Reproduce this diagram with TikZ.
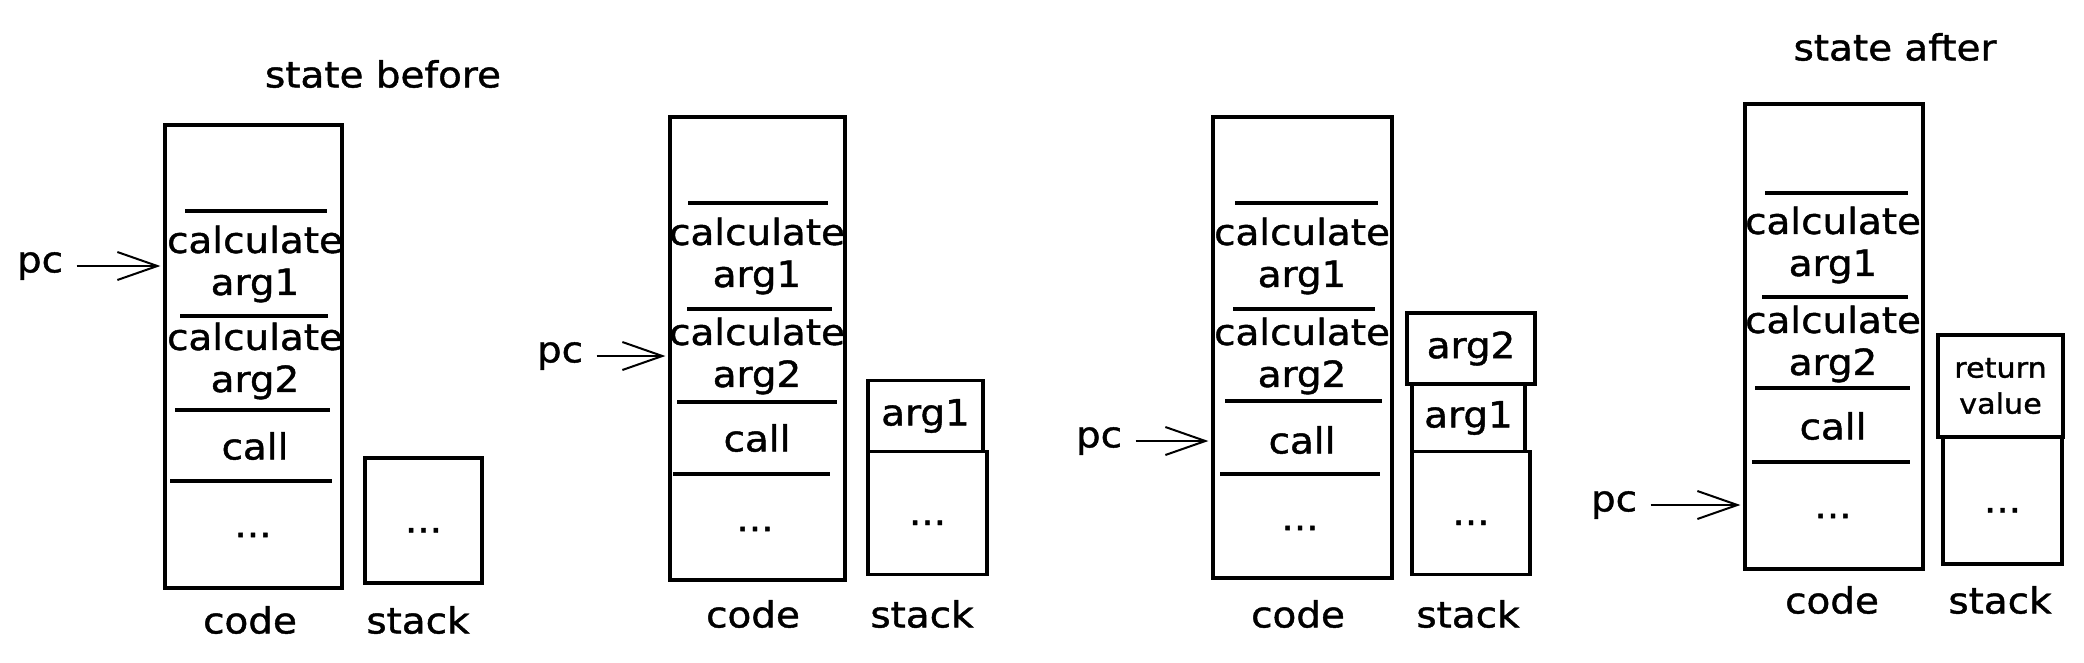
\documentclass[tikz,border=0pt]{standalone}
\usepackage{fontspec}
\setmainfont[FakeStretch=1.08, FakeBold=1.2]{DejaVu Sans}
\usetikzlibrary{arrows.meta}
\tikzstyle{codebox} = [rectangle, draw=black, line width=3.2pt, inner sep=0pt]
\tikzstyle{cell} = [rectangle, draw=black, line width=3.2pt, inner sep=0pt, text centered]
\tikzstyle{dots} = [text height=24pt, text depth=0pt]
\tikzstyle{entry} = [align=center]
\tikzstyle{divider} = [line width=3.2pt]
\tikzstyle{pointer} = [line width=2pt, -{Straight Barb[length=40pt,width=28pt]}, shorten <=10pt, shorten >=3pt]

\begin{document}
\begin{tikzpicture}[x=1pt, y=-1pt, font=\fontsize{36}{42}\selectfont]
  \fill[white] (0,0) rectangle (2084,662);
  \useasboundingbox (0,0) rectangle (2084,662);
  % state before
  \node (before) at (383,74) {state before};
  \node (code1) [codebox, minimum width=177, minimum height=463] at (253.5,356.5) {};
  \draw[divider] (185,211) -- (327,211);
  \draw[divider] (180,316) -- (328,316);
  \draw[divider] (175,410) -- (330,410);
  \draw[divider] (170,481) -- (332,481);
  \node (c1a) [entry] at (255,264) {calculate\\arg1};
  \node (c1b) [entry] at (255,361) {calculate\\arg2};
  \node (c1c) at (255,446) {call};
  \node (c1d) at (253,535) {...};
  \node (stack1) [cell, dots, minimum width=117, minimum height=125] at (423.5,520.5) {...};
  \node (pc1) at (40,266) {pc};
  \draw[pointer] (pc1) -- (pc1 -| code1.west);
  \node (codelbl1) at (250,620) {code};
  \node (stacklbl1) at (418,620) {stack};
  % arg1 pushed
  \node (code2) [codebox, minimum width=175, minimum height=463] at (757.5,348.5) {};
  \draw[divider] (688,203) -- (828,203);
  \draw[divider] (687,309) -- (832,309);
  \draw[divider] (677,402) -- (837,402);
  \draw[divider] (673,474) -- (830,474);
  \node (c2a) [entry] at (757,256) {calculate\\arg1};
  \node (c2b) [entry] at (757,356) {calculate\\arg2};
  \node (c2c) at (757,438) {call};
  \node (c2d) at (755,529) {...};
  \node (stack2a) [cell, minimum width=115, minimum height=71] at (925.5,416) {arg1};
  \node (stack2b) [cell, dots, minimum width=119, minimum height=123] at (927.5,513) {...};
  \node (pc2) at (560,356) {pc};
  \draw[pointer] (pc2) -- (pc2 -| code2.west);
  \node (codelbl2) at (753,614) {code};
  \node (stacklbl2) at (922,614) {stack};
  % arg2 pushed
  \node (code3) [codebox, minimum width=179, minimum height=461] at (1302.5,347.5) {};
  \draw[divider] (1235,203) -- (1378,203);
  \draw[divider] (1233,309) -- (1375,309);
  \draw[divider] (1225,401) -- (1382,401);
  \draw[divider] (1220,474) -- (1380,474);
  \node (c3a) [entry] at (1302,256) {calculate\\arg1};
  \node (c3b) [entry] at (1302,356) {calculate\\arg2};
  \node (c3c) at (1302,440) {call};
  \node (c3d) at (1300,528) {...};
  \node (stack3a) [cell, minimum width=128, minimum height=71] at (1471,348.5) {arg2};
  \node (stack3b) [cell, minimum width=113, minimum height=67] at (1468.5,418) {arg1};
  \node (stack3c) [cell, dots, minimum width=118, minimum height=123] at (1471,513) {...};
  \node (pc3) at (1099,441) {pc};
  \draw[pointer] (pc3) -- (pc3 -| code3.west);
  \node (codelbl3) at (1298,614) {code};
  \node (stacklbl3) at (1468,614) {stack};
  % state after
  \node (after) at (1895,47) {state after};
  \node (code4) [codebox, minimum width=178, minimum height=465] at (1834,336.5) {};
  \draw[divider] (1765,193) -- (1908,193);
  \draw[divider] (1762,297) -- (1908,297);
  \draw[divider] (1755,388) -- (1910,388);
  \draw[divider] (1752,462) -- (1910,462);
  \node (c4a) [entry] at (1833,245) {calculate\\arg1};
  \node (c4b) [entry] at (1833,344) {calculate\\arg2};
  \node (c4c) at (1833,426) {call};
  \node (c4d) at (1833,516) {...};
  \node (stack4a) [cell, align=center, minimum width=125, minimum height=102, font=\fontsize{28}{36}\selectfont] at (2000.5,386) {return\\value};
  \node (stack4b) [cell, dots, minimum width=119, minimum height=127] at (2002.5,500.5) {...};
  \node (pc4) at (1614,505) {pc};
  \draw[pointer] (pc4) -- (pc4 -| code4.west);
  \node (codelbl4) at (1832,600) {code};
  \node (stacklbl4) at (2000,600) {stack};
\end{tikzpicture}
\end{document}
